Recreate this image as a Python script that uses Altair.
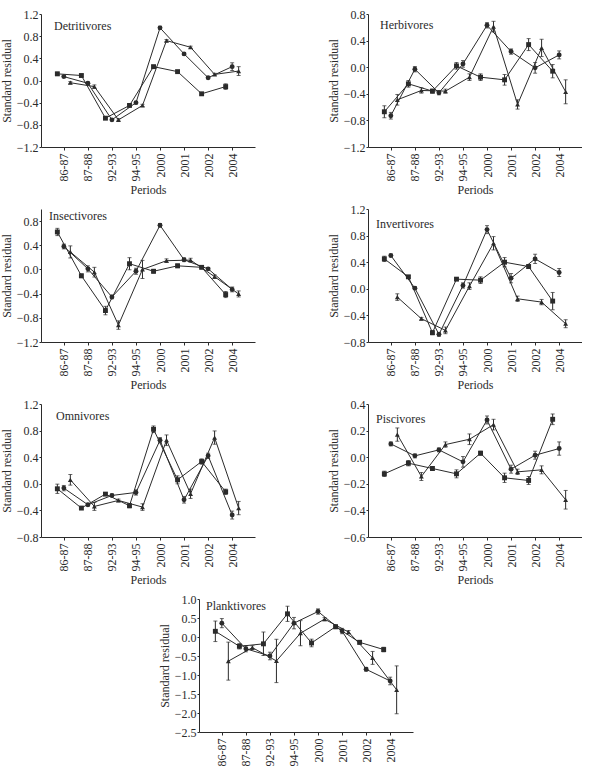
import altair as alt
import pandas as pd

# Sampling periods on the x axis
periods = ["86-87", "87-88", "92-93", "94-95", "2000", "2001", "2002", "2004"]

# Three series per guild, drawn with square, circle and triangle markers
series = ["square", "circle", "triangle-up"]
x_shift = [-0.27, 0.0, 0.27]

# Mean standard residuals per guild (rows: square, circle, triangle series)
detritivores = [
    [0.12, 0.09, -0.68, -0.45, 0.25, 0.16, -0.24, -0.11],
    [0.07, -0.05, -0.71, -0.40, 0.95, 0.48, 0.05, 0.25],
    [-0.04, -0.11, -0.71, -0.45, 0.72, 0.60, 0.11, 0.17],
]
detritivores_err = [
    [0.03, 0.02, 0.02, 0.02, 0.02, 0.02, 0.02, 0.05],
    [0.02, 0.02, 0.02, 0.02, 0.03, 0.02, 0.02, 0.07],
    [0.02, 0.03, 0.02, 0.02, 0.02, 0.02, 0.02, 0.08],
]

herbivores = [
    [-0.67, -0.25, -0.36, 0.02, -0.15, -0.19, 0.34, -0.06],
    [-0.73, -0.03, -0.385, 0.05, 0.63, 0.235, -0.01, 0.185],
    [-0.49, -0.35, -0.36, -0.15, 0.61, -0.56, 0.29, -0.37],
]
herbivores_err = [
    [0.09, 0.05, 0.03, 0.05, 0.05, 0.08, 0.09, 0.10],
    [0.05, 0.04, 0.03, 0.05, 0.04, 0.04, 0.08, 0.06],
    [0.08, 0.04, 0.03, 0.05, 0.08, 0.07, 0.13, 0.18],
]

insectivores = [
    [0.62, -0.105, -0.68, 0.095, -0.03, 0.06, 0.035, -0.415],
    [0.38, 0.01, -0.455, -0.03, 0.73, 0.16, 0.01, -0.33],
    [0.29, -0.045, -0.92, 0.0, 0.145, 0.155, -0.12, -0.405],
]
insectivores_err = [
    [0.06, 0.03, 0.07, 0.10, 0.03, 0.03, 0.02, 0.05],
    [0.04, 0.05, 0.03, 0.05, 0.03, 0.03, 0.02, 0.04],
    [0.10, 0.08, 0.07, 0.15, 0.03, 0.03, 0.03, 0.05],
]

invertivores = [
    [0.45, 0.18, -0.66, 0.145, 0.13, 0.40, 0.335, -0.185],
    [0.50, 0.01, -0.685, 0.05, 0.89, 0.16, 0.45, 0.245],
    [-0.125, -0.45, -0.625, 0.04, 0.685, -0.15, -0.20, -0.525],
]
invertivores_err = [
    [0.04, 0.02, 0.03, 0.02, 0.05, 0.07, 0.03, 0.13],
    [0.02, 0.02, 0.03, 0.04, 0.06, 0.07, 0.07, 0.06],
    [0.05, 0.02, 0.05, 0.05, 0.10, 0.04, 0.04, 0.06],
]

omnivores = [
    [-0.075, -0.365, -0.155, -0.33, 0.82, 0.06, 0.335, -0.12],
    [-0.065, -0.315, -0.175, -0.13, 0.655, -0.24, 0.42, -0.47],
    [0.06, -0.34, -0.25, -0.35, 0.655, -0.15, 0.695, -0.365],
]
omnivores_err = [
    [0.07, 0.02, 0.02, 0.03, 0.05, 0.06, 0.04, 0.04],
    [0.04, 0.02, 0.02, 0.04, 0.04, 0.05, 0.04, 0.06],
    [0.08, 0.06, 0.02, 0.05, 0.08, 0.07, 0.10, 0.10],
]

piscivores = [
    [-0.125, -0.045, -0.085, -0.125, 0.03, -0.155, -0.175, 0.285],
    [0.10, 0.01, 0.055, -0.035, 0.28, -0.09, 0.015, 0.065],
    [0.17, -0.145, 0.095, 0.135, 0.245, -0.11, -0.095, -0.32],
]
piscivores_err = [
    [0.02, 0.02, 0.015, 0.03, 0.015, 0.035, 0.03, 0.04],
    [0.015, 0.015, 0.015, 0.04, 0.03, 0.03, 0.03, 0.05],
    [0.05, 0.03, 0.02, 0.04, 0.04, 0.02, 0.03, 0.07],
]

planktivores = [
    [0.15, -0.245, -0.18, 0.61, -0.157, 0.27, -0.14, -0.33],
    [0.365, -0.31, -0.50, 0.365, 0.67, 0.157, -0.85, -1.157],
    [-0.635, -0.28, -0.63, 0.10, 0.47, 0.13, -0.55, -1.39],
]
planktivores_err = [
    [0.27, 0.07, 0.31, 0.20, 0.10, 0.05, 0.05, 0.06],
    [0.12, 0.08, 0.10, 0.15, 0.07, 0.07, 0.05, 0.10],
    [0.50, 0.05, 0.57, 0.33, 0.04, 0.04, 0.17, 0.63],
]

INK = "#2b2b2b"
FONT = "Liberation Serif"
PLOT_W, PLOT_H = 214, 133


def to_frame(means, errs):
    rows = []
    for s, (m_row, e_row) in enumerate(zip(means, errs)):
        for i, (m, e) in enumerate(zip(m_row, e_row)):
            rows.append({
                "series": series[s],
                "pos": i + x_shift[s],
                "value": m,
                "lo": m - e,
                "hi": m + e,
            })
    return pd.DataFrame(rows)


def panel(name, means, errs, ymin, ymax, ystep, ytop, label_xy, x_title=True):
    df = to_frame(means, errs)
    n = int(round((ytop - ymin) / ystep))
    yticks = [round(ymin + k * ystep, 2) for k in range(n + 1)]
    label_expr = "[" + ",".join("'%s'" % p for p in periods) + "][datum.value]"

    x_axis_args = dict(
        values=list(range(len(periods))), labelExpr=label_expr, labelAngle=270,
        labelOverlap=False, grid=False, tickSize=3, labelPadding=3, titlePadding=4,
    )
    x_axis_args["title"] = "Periods" if x_title else None
    x = alt.X("pos:Q", scale=alt.Scale(domain=[-0.95, 7.95], nice=False, zero=False),
              axis=alt.Axis(**x_axis_args))
    y_scale = alt.Scale(domain=[ymin, ymax], nice=False, zero=False)
    y_axis = alt.Axis(values=yticks, format=".1f", grid=False, tickSize=2,
                      labelOverlap=False, labelPadding=1, titlePadding=3,
                      title="Standard residual")

    base = alt.Chart(df)
    lines = base.mark_line(color=INK, strokeWidth=1).encode(
        x=x, y=alt.Y("value:Q", scale=y_scale, axis=y_axis), detail="series:N"
    )
    bars = base.mark_rule(color=INK, strokeWidth=1).encode(
        x=x, y=alt.Y("lo:Q", scale=y_scale, axis=y_axis), y2="hi:Q"
    )
    cap_lo = base.mark_tick(color=INK, orient="horizontal", size=4, thickness=1).encode(
        x=x, y=alt.Y("lo:Q", scale=y_scale, axis=y_axis)
    )
    cap_hi = base.mark_tick(color=INK, orient="horizontal", size=4, thickness=1).encode(
        x=x, y=alt.Y("hi:Q", scale=y_scale, axis=y_axis)
    )
    points = base.mark_point(filled=True, color=INK, opacity=1, size=24).encode(
        x=x,
        y=alt.Y("value:Q", scale=y_scale, axis=y_axis),
        shape=alt.Shape("series:N", scale=alt.Scale(domain=series, range=series), legend=None),
    )
    title = alt.Chart(pd.DataFrame({"t": [name]})).mark_text(
        align="left", baseline="middle", font=FONT, fontSize=12, color=INK
    ).encode(text="t:N", x=alt.value(label_xy[0]), y=alt.value(label_xy[1]))

    return alt.layer(lines, bars, cap_lo, cap_hi, points, title).properties(
        width=PLOT_W, height=PLOT_H
    )


det = panel("Detritivores", detritivores, detritivores_err, -1.2, 1.2, 0.4, 1.2, (13, 12))
herb = panel("Herbivores", herbivores, herbivores_err, -1.2, 0.8, 0.4, 0.8, (12, 11))
ins = panel("Insectivores", insectivores, insectivores_err, -1.2, 1.0, 0.4, 0.8, (8, 7))
inv = panel("Invertivores", invertivores, invertivores_err, -0.8, 1.2, 0.4, 1.2, (8, 15))
omn = panel("Omnivores", omnivores, omnivores_err, -0.8, 1.2, 0.4, 1.2, (15, 12))
pis = panel("Piscivores", piscivores, piscivores_err, -0.6, 0.4, 0.2, 0.4, (8, 15))
plank = panel("Planktivores", planktivores, planktivores_err, -2.5, 1.0, 0.5, 1.0, (7, 7),
              x_title=False)

spacer = alt.Chart(pd.DataFrame({"a": [0]})).mark_point(opacity=0).encode(
    x=alt.value(0), y=alt.value(0)
).properties(width=117, height=PLOT_H)

row1 = alt.hconcat(det, herb, spacing=72)
row2 = alt.hconcat(ins, inv, spacing=72)
row3 = alt.hconcat(omn, pis, spacing=72)
row4 = alt.hconcat(spacer, plank, spacing=0)

upper = alt.vconcat(row1, row2, row3, spacing=7)

chart = alt.vconcat(upper, row4, spacing=7).properties(
    padding={"left": 0, "top": 8, "right": 0, "bottom": 0},
    background="white",
).configure_view(stroke=None).configure_axis(
    labelFont=FONT, titleFont=FONT, labelFontSize=12, titleFontSize=12,
    labelColor=INK, titleColor=INK, domainColor=INK, tickColor=INK,
    titleFontWeight="normal",
).configure_axisX(labelOverlap=False)

chart.save("out.html", embed_options={"renderer": "svg", "actions": False})
